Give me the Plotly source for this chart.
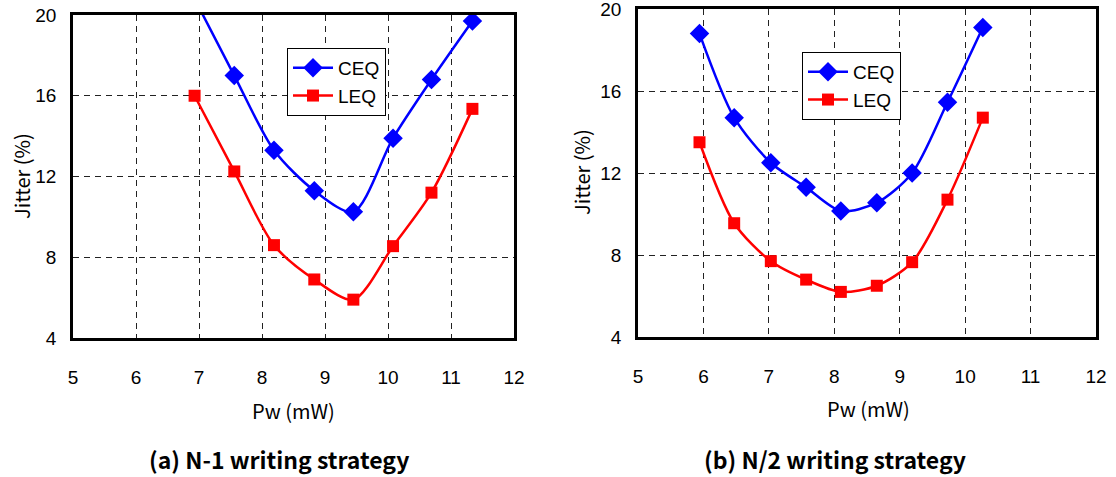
import plotly.graph_objects as go

# ---- data ----
a_x = [6.93, 7.56, 8.19, 8.83, 9.45, 10.08, 10.69, 11.34]
a_ceq = [20.8, 17.0, 13.3, 11.3, 10.25, 13.9, 16.8, 19.7]
a_leq = [16.0, 12.25, 8.6, 6.9, 5.9, 8.55, 11.2, 15.35]

b_x = [5.94, 6.47, 7.03, 7.57, 8.10, 8.65, 9.19, 9.73, 10.27]
b_ceq = [18.8, 14.7, 12.5, 11.3, 10.15, 10.55, 12.0, 15.45, 19.1]
b_leq = [13.5, 9.55, 7.7, 6.8, 6.2, 6.5, 7.65, 10.7, 14.7]

x_ticks = [5, 6, 7, 8, 9, 10, 11, 12]
y_ticks = [4, 8, 12, 16, 20]
series_names = ["CEQ", "LEQ"]
captions = ["(a) N-1 writing strategy", "(b) N/2 writing strategy"]
x_title = "Pw (mW)"
y_title = "Jitter (%)"

W, H = 1116, 477
BLUE = "#0000FF"
RED = "#FF0000"
TICKFONT = dict(family="Liberation Sans, Arial, sans-serif", size=19, color="black")
TITLEFONT = dict(family="Noto Sans CJK JP, sans-serif", size=20, color="black")

fig = go.Figure()

def add_series(xs, ys, name, color, symbol, msize, xa, ya, legend):
    fig.add_trace(go.Scatter(
        x=xs, y=ys, name=name, mode="lines+markers",
        line=dict(color=color, width=2.5, shape="spline", smoothing=0.8),
        marker=dict(color=color, symbol=symbol, size=msize),
        xaxis=xa, yaxis=ya, legend=legend,
    ))

add_series(a_x, a_ceq, series_names[0], BLUE, "diamond", 15, "x", "y", "legend")
add_series(a_x, a_leq, series_names[1], RED, "square", 12, "x", "y", "legend")
add_series(b_x, b_ceq, series_names[0], BLUE, "diamond", 15, "x2", "y2", "legend2")
add_series(b_x, b_leq, series_names[1], RED, "square", 12, "x2", "y2", "legend2")

def px_x(p):
    return p / W

def px_y(p):
    return 1 - p / H

xaxis_common = dict(
    range=[5, 12], tickvals=x_ticks, showgrid=True, gridcolor="#222222",
    griddash="6px,5px", gridwidth=1, showline=True, linecolor="black",
    linewidth=2.5, mirror=True, ticks="outside", ticklen=20,
    tickcolor="rgba(0,0,0,0)", tickfont=TICKFONT, zeroline=False,
    automargin=False, ticklabeloverflow="allow",
)
yaxis_common = dict(
    range=[4, 20], tickvals=y_ticks, showgrid=True, gridcolor="#222222",
    griddash="6px,5px", gridwidth=1, showline=True, linecolor="black",
    linewidth=2.5, mirror=True, ticks="outside", ticklen=10,
    tickcolor="rgba(0,0,0,0)", tickfont=TICKFONT, zeroline=False,
    automargin=False, ticklabeloverflow="allow",
)

fig.update_layout(
    width=W, height=H,
    margin=dict(l=0, r=0, t=0, b=0),
    paper_bgcolor="white", plot_bgcolor="white",
    xaxis=dict(domain=[px_x(73), px_x(514)], anchor="y", **xaxis_common),
    yaxis=dict(domain=[px_y(338), px_y(15)], anchor="x", **yaxis_common),
    xaxis2=dict(domain=[px_x(638), px_x(1096)], anchor="y2", **xaxis_common),
    yaxis2=dict(domain=[px_y(337), px_y(9)], anchor="x2", **yaxis_common),
    legend=dict(
        x=px_x(287), y=px_y(48), xanchor="left", yanchor="top",
        bordercolor="black", borderwidth=1, bgcolor="white",
        font=dict(family="Liberation Sans, Arial, sans-serif", size=19, color="black"),
        itemwidth=40, tracegroupgap=0,
    ),
    legend2=dict(
        x=px_x(802), y=px_y(52), xanchor="left", yanchor="top",
        bordercolor="black", borderwidth=1, bgcolor="white",
        font=dict(family="Liberation Sans, Arial, sans-serif", size=19, color="black"),
        itemwidth=40, tracegroupgap=0,
    ),
    showlegend=True,
)

annotations = []
# axis titles
for cx, cy in [(293, 410), (868, 408)]:
    annotations.append(dict(x=px_x(cx), y=px_y(cy), xref="paper", yref="paper",
                            text=x_title, showarrow=False, font=TITLEFONT,
                            xanchor="center", yanchor="middle"))
for cx, cy in [(21, 176), (581, 172)]:
    annotations.append(dict(x=px_x(cx), y=px_y(cy), xref="paper", yref="paper",
                            text=y_title, showarrow=False, font=TITLEFONT, textangle=-90,
                            xanchor="center", yanchor="middle", borderpad=0))
# captions
for cx, txt in zip([279, 835], captions):
    annotations.append(dict(x=px_x(cx), y=px_y(459), xref="paper", yref="paper",
                            text="<b>" + txt + "</b>", showarrow=False,
                            font=dict(family="Noto Sans CJK JP, sans-serif", size=23, color="black"),
                            xanchor="center", yanchor="middle"))
fig.update_layout(annotations=annotations)

# remove the default 8px page margin so the figure fills the window exactly
fig.write_html("out.html", config={"displayModeBar": False},
               post_script="document.body.style.margin='0px';")
